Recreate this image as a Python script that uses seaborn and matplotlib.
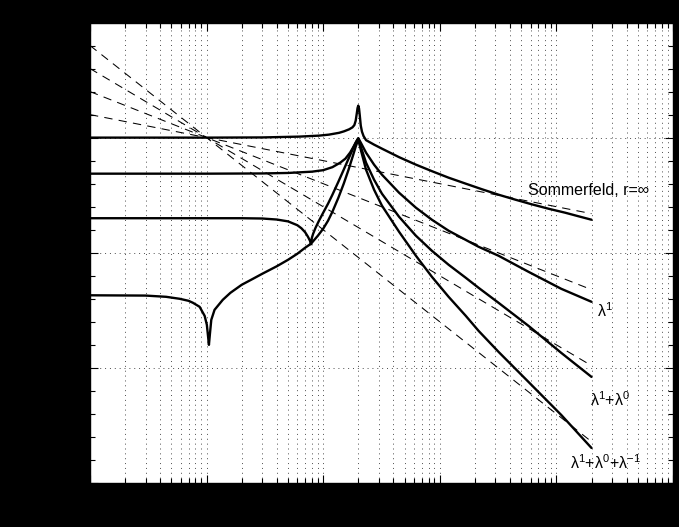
import numpy as np
import pandas as pd
import matplotlib
matplotlib.use("Agg")
import matplotlib.pyplot as plt
import seaborn as sns
from matplotlib.ticker import FixedLocator, LogLocator, NullFormatter

# Frequency-response magnitudes: exact Sommerfeld solution and the
# truncated lambda-expansions; all share the resonance at x = 2.
somm_x = [0.01, 0.1, 0.3, 0.62, 0.92, 1.12, 1.37, 1.51, 1.67, 1.78, 1.85,
          1.90, 1.94, 1.97, 2.0, 2.03, 2.06, 2.10, 2.15, 2.22, 2.33, 2.73,
          3.19, 4.47, 6.24, 8.55, 11.9, 16.7, 22.9, 31.9, 44.6, 61.1, 85.5,
          119, 154, 200]
somm_y = [1.0, 1.0, 1.02, 1.105, 1.22, 1.35, 1.62, 1.88, 2.30, 2.78, 3.50,
          5.48, 11.05, 19.2, 24.6, 18.2, 9.05, 3.32, 1.82, 1.16, 0.778, 0.496,
          0.332, 0.142, 0.0670, 0.0350, 0.0182, 0.0100, 5.77e-3, 3.32e-3,
          2.01e-3, 1.28e-3, 8.18e-4, 5.48e-4, 3.86e-4, 2.72e-4]

lam1_x = [0.01, 0.1, 0.3, 0.5, 0.8, 1.0, 1.2, 1.4, 1.55, 1.7, 1.8, 1.9,
          1.96, 2.0, 2.10, 2.33, 2.73, 3.19, 4.47, 6.24, 8.55, 11.9, 21.5,
          31.9, 57.6, 110, 200]
lam1_y = [0.0272, 0.0272, 0.0278, 0.0292, 0.0332, 0.0386, 0.0522, 0.0818,
          0.122, 0.223, 0.367, 0.606, 0.818, 0.951, 0.606, 0.223, 0.0670,
          0.0246, 4.06e-3, 9.05e-4, 2.72e-4, 9.05e-5, 1.82e-5, 7.41e-6,
          1.49e-6, 2.72e-7, 7.41e-8]

lam10_x = [0.01, 0.1, 0.2, 0.3, 0.4, 0.5, 0.6, 0.65, 0.7, 0.74, 0.77, 0.785,
           0.80, 0.82, 0.86, 0.92, 1.0, 1.1, 1.2, 1.35, 1.5, 1.65, 1.8, 1.9,
           2.0, 2.10, 2.33, 2.73, 3.19, 4.47, 6.24, 8.55, 11.9, 16.7, 21.5,
           31.9, 57.6, 110, 200]
lam10_y = [3.16e-4, 3.16e-4, 3.16e-4, 3.07e-4, 2.77e-4, 2.30e-4, 1.57e-4,
           1.16e-4, 7.78e-5, 4.96e-5, 3.32e-5, 2.34e-5, 4.49e-5, 6.70e-5,
           1.22e-4, 2.46e-4, 5.48e-4, 1.35e-3, 3.32e-3, 0.0122, 0.0406, 0.122,
           0.332, 0.606, 0.905, 0.406, 0.0818, 0.0149, 3.67e-3, 3.67e-4,
           5.48e-5, 1.22e-5, 3.01e-6, 8.18e-7, 3.01e-7, 6.70e-8, 6.70e-9,
           4.49e-10, 4.06e-11]

lam101_x = [0.01, 0.03, 0.045, 0.0588, 0.07, 0.0764, 0.0871, 0.0962, 0.1005,
            0.1026, 0.1047, 0.1068, 0.1097, 0.117, 0.1377, 0.16, 0.2, 0.25,
            0.3, 0.4, 0.5, 0.6, 0.7, 0.785, 0.9, 1.0, 1.1, 1.2, 1.35, 1.5,
            1.65, 1.8, 1.9, 2.0, 2.10, 2.33, 2.73, 3.19, 4.47, 6.24, 8.55,
            11.9, 16.7, 21.5, 31.9, 57.6, 110, 200]
lam101_y = [1.42e-7, 1.38e-7, 1.22e-7, 1.0e-7, 8.18e-8, 6.70e-8, 4.49e-8,
            1.82e-8, 7.41e-9, 2.72e-9, 1.0e-9, 3.01e-9, 1.22e-8, 3.32e-8,
            9.05e-8, 1.82e-7, 4.06e-7, 7.41e-7, 1.22e-6, 2.59e-6, 4.96e-6,
            9.05e-6, 1.65e-5, 2.46e-5, 5.48e-5, 1.11e-4, 2.46e-4, 6.06e-4,
            2.46e-3, 0.0100, 0.0406, 0.165, 0.406, 0.818, 0.301, 0.0406,
            5.48e-3, 1.11e-3, 8.18e-5, 7.41e-6, 9.05e-7, 1.22e-7, 1.82e-8,
            4.06e-9, 4.96e-10, 2.46e-11, 9.05e-13, 3.32e-14]

# Power-law asymptotes (slopes -1 ... -4) over the same frequency span
asym_x = [0.01, 200]
asym_y = [[10.0, 5.0e-4],
          [100.0, 2.5e-7],
          [1000.0, 1.25e-10],
          [10000.0, 6.25e-14]]

x_major = [1e-2, 1e-1, 1e0, 1e1, 1e2, 1e3]
y_major = [1e-15, 1e-10, 1e-5, 1e0, 1e5]

curve_names = ["Sommerfeld, r=∞", r"$\lambda^{1}$",
               r"$\lambda^{1}$+$\lambda^{0}$",
               r"$\lambda^{1}$+$\lambda^{0}$+$\lambda^{-1}$"]

sns.set_theme(style="ticks")
plt.rcParams["font.family"] = ["Liberation Sans Narrow", "Liberation Sans", "DejaVu Sans"]
plt.rcParams["mathtext.default"] = "regular"

fig = plt.figure(figsize=(6.79, 5.27), dpi=100, facecolor="black")
ax = fig.add_axes([90 / 679, 44 / 527, 583 / 679, 460.5 / 527])
ax.set_facecolor("white")

for ys in asym_y:
    df = pd.DataFrame({"x": asym_x, "y": ys})
    sns.lineplot(data=df, x="x", y="y", ax=ax, color="black", lw=0.75,
                 estimator=None, sort=False)
for line in ax.lines:
    line.set_dashes((8, 6))

for xs, ys in [(somm_x, somm_y), (lam1_x, lam1_y), (lam10_x, lam10_y),
               (lam101_x, lam101_y)]:
    df = pd.DataFrame({"x": xs, "y": ys})
    sns.lineplot(data=df, x="x", y="y", ax=ax, color="black", lw=1.7,
                 estimator=None, sort=False)

ax.set_xscale("log")
ax.set_yscale("log")
ax.set_xlim(1e-2, 1e3)
ax.set_ylim(1e-15, 1e5)
ax.set_xlabel("")
ax.set_ylabel("")

ax.yaxis.set_major_locator(FixedLocator(y_major))
ax.yaxis.set_minor_locator(FixedLocator([10.0 ** k for k in range(-15, 6)]))
ax.yaxis.set_minor_formatter(NullFormatter())
ax.xaxis.set_major_locator(FixedLocator(x_major))
ax.xaxis.set_minor_locator(LogLocator(base=10, subs=np.arange(2, 10), numticks=20))
ax.xaxis.set_minor_formatter(NullFormatter())

# tick labels are drawn in black on the black figure background
ax.tick_params(which="both", direction="in", top=True, right=True,
               colors="black", labelcolor="black", labelsize=10, pad=6)
ax.tick_params(which="major", length=6, width=0.8)
ax.tick_params(which="minor", length=3.5, width=0.8)
fig.canvas.draw()
ax.get_xticklabels()[-1].set_horizontalalignment("right")

grid_kw = dict(color="0.3", lw=0.7, ls=(0, (1, 4)))
ax.xaxis.grid(True, which="both", **grid_kw)
ax.yaxis.grid(True, which="major", **grid_kw)
for sp in ax.spines.values():
    sp.set_color("black")
    sp.set_linewidth(1.0)

label_pos = [(57.0, 5.0e-3, "left"), (262, 3.0e-8, "center"),
             (290, 4.1e-12, "center"), (262, 7.4e-15, "center")]
for name, (lx, ly, ha) in zip(curve_names, label_pos):
    ax.text(lx, ly, name, ha=ha, va="center", fontsize=11.5, color="black")

fig.savefig("out.png", dpi=100, facecolor="black")
